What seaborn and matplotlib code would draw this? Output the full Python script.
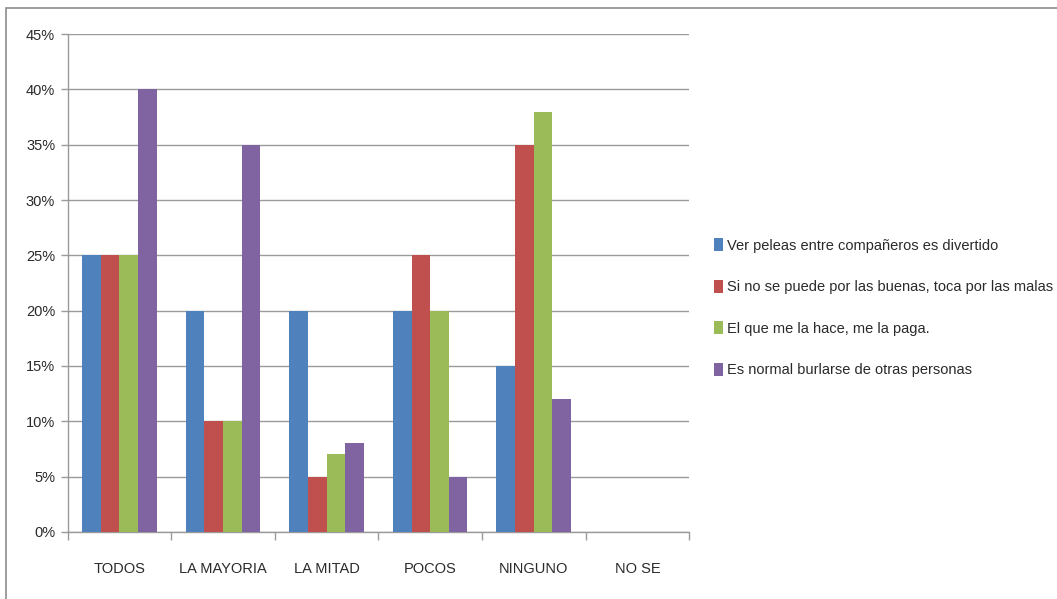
import seaborn as sns
import matplotlib.pyplot as plt
import pandas as pd
from matplotlib.patches import Rectangle
from matplotlib.ticker import PercentFormatter, FixedLocator

categories = ["TODOS", "LA MAYORIA", "LA MITAD", "POCOS", "NINGUNO", "NO SE"]
series = [
    "Ver peleas entre compañeros es divertido",
    "Si no se puede por las buenas, toca por las malas",
    "El que me la hace, me la paga.",
    "Es normal burlarse de otras personas",
]
ver_peleas = [25, 20, 20, 20, 15, 0]
si_no_se_puede = [25, 10, 5, 25, 35, 0]
el_que_me_la_hace = [25, 10, 7, 20, 38, 0]
es_normal = [40, 35, 8, 5, 12, 0]
colors = ["#4F81BD", "#C0504D", "#9BBB59", "#8064A2"]

rows = []
for name, vals in zip(series, [ver_peleas, si_no_se_puede, el_que_me_la_hace, es_normal]):
    for cat, v in zip(categories, vals):
        rows.append({"categoria": cat, "serie": name, "valor": v})
df = pd.DataFrame(rows)

sns.set_style("white")
plt.rcParams["font.family"] = ["Liberation Sans", "DejaVu Sans"]

fig = plt.figure(figsize=(10.57, 5.99), dpi=100)
ax = fig.add_axes([0.064, 0.112, 0.588, 0.831])

sns.barplot(data=df, x="categoria", y="valor", hue="serie", palette=colors,
            width=0.72, saturation=1, ax=ax, errorbar=None, linewidth=0, zorder=3)

ax.set_ylim(0, 45)
ax.set_xlim(-0.5, 5.5)
ax.set_yticks(range(0, 46, 5))
ax.yaxis.set_major_formatter(PercentFormatter(decimals=0))
ax.grid(axis="y", color="#9a9a9a", linewidth=1, zorder=0)
ax.set_axisbelow(True)
ax.set_xlabel("")
ax.set_ylabel("")

for s in ["top", "right"]:
    ax.spines[s].set_visible(False)
for s in ["left", "bottom"]:
    ax.spines[s].set_color("#9a9a9a")
    ax.spines[s].set_linewidth(1)

# category separators as tick marks
ax.xaxis.set_minor_locator(FixedLocator([i - 0.5 for i in range(7)]))
ax.tick_params(axis="x", which="major", length=0, pad=22, labelsize=10.5, labelcolor="#2a2a2a")
ax.tick_params(axis="x", which="minor", length=6, color="#9a9a9a", width=1, bottom=True)
ax.tick_params(axis="y", length=5, color="#9a9a9a", width=1, left=True, labelsize=10.5,
               labelcolor="#2a2a2a", pad=4)

leg = ax.legend(loc="center left", bbox_to_anchor=(1.04, 0.45), frameon=False,
                fontsize=10.5, handlelength=0.6, handleheight=1.0, handletextpad=0.3,
                labelspacing=1.85, labelcolor="#2a2a2a", borderaxespad=0, borderpad=0)

fig.patches.append(Rectangle((0.006, -0.01), 1.0, 0.997, transform=fig.transFigure,
                             fill=False, edgecolor="#8c8c8c", linewidth=1.2))

plt.savefig("out.png", dpi=100)
plt.close()
